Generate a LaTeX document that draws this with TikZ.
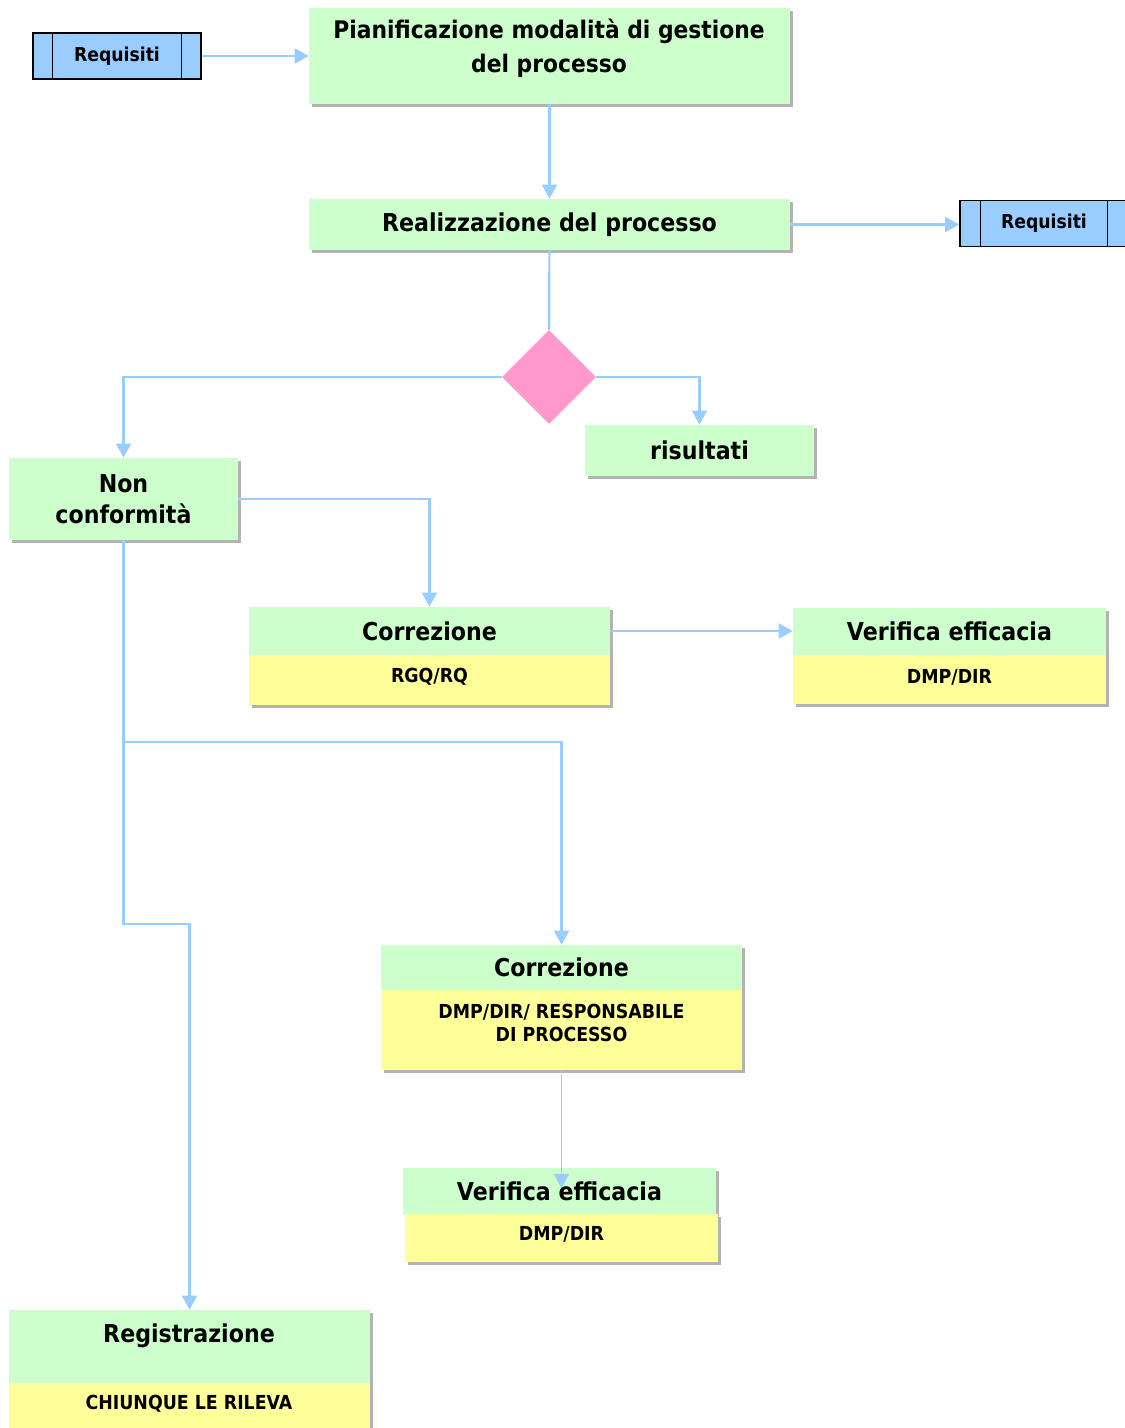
\documentclass[tikz,border=0pt]{standalone}
\usepackage{fontspec}
\setmainfont{DejaVu Sans}[FakeStretch=0.9]
\usetikzlibrary{arrows.meta,shapes.geometric,shadows}
\definecolor{boxgreen}{HTML}{CCFFCC}
\definecolor{boxyellow}{HTML}{FFFF99}
\definecolor{reqblue}{HTML}{99CCFF}
\definecolor{linkblue}{HTML}{99CCFF}
\definecolor{decpink}{HTML}{FF99CC}
\definecolor{shade}{HTML}{B3B3B3}

\begin{document}
\begin{tikzpicture}[x=0.02cm, y=-0.02cm,
        big/.style={font=\bfseries\fontsize{14}{17.6}\selectfont, align=center, inner sep=0pt},
        small/.style={font=\bfseries\fontsize{11}{13.6}\selectfont, align=center, inner sep=0pt},
        greenbox/.style={fill=boxgreen, inner sep=0pt, drop shadow={shadow xshift=1.7pt, shadow yshift=-1.7pt, fill=shade, opacity=1}},
        yellowbox/.style={fill=boxyellow, inner sep=0pt, drop shadow={shadow xshift=1.7pt, shadow yshift=-1.7pt, fill=shade, opacity=1}},
        reqbox/.style={draw=black, line width=0.9pt, fill=reqblue, minimum width=3.36cm, minimum height=0.92cm, inner sep=0pt, font=\bfseries\fontsize{10.9}{12}\selectfont},
        link/.style={draw=linkblue, line width=1.25pt},
        flow/.style={link, -{Triangle[width=8.5pt, length=8pt]}}]
        \useasboundingbox (0,0) rectangle (1125,1428);
        \clip (0,0) rectangle (1125,1428);

        \node[reqbox] (reqL) at (117,56) {Requisiti};
        \draw ([xshift=0.4cm]reqL.north west) -- ([xshift=0.4cm]reqL.south west);
        \draw ([xshift=-0.4cm]reqL.north east) -- ([xshift=-0.4cm]reqL.south east);
        \node[greenbox, minimum width=9.62cm, minimum height=1.92cm] (plan) at (549.5,56) {};
        \node[big, font=\bfseries\fontsize{13.8}{19.3}\selectfont] (planTxt) at (549,48) {Pianificazione modalità di gestione\\del processo};

        \node[greenbox, big, minimum width=9.62cm, minimum height=1.02cm] (real) at (549.5,224.5) {Realizzazione del processo};
        \node[reqbox] (reqR) at (1044,223.5) {Requisiti};
        \draw ([xshift=0.42cm]reqR.north west) -- ([xshift=0.42cm]reqR.south west);
        \draw ([xshift=-0.42cm]reqR.north east) -- ([xshift=-0.42cm]reqR.south east);

        \node[diamond, aspect=1, fill=decpink, minimum size=1.88cm, inner sep=0pt] (dec) at (549,377) {};
        \node[greenbox, big, minimum width=4.58cm, minimum height=1.02cm] (ris) at (699.5,450.5) {risultati};
        \node[greenbox, big, minimum width=4.58cm, minimum height=1.64cm] (nonc) at (123.5,499) {Non\\conformità};

        \node[greenbox, big, minimum width=7.22cm, minimum height=0.96cm] (corr1g) at (429.5,631) {Correzione};
        \node[yellowbox, small, minimum width=7.22cm, minimum height=1cm] (corr1y) at (429.5,680) {};
        \node[small] (corr1t) at (429.5,677) {RGQ/RQ};

        \node[greenbox, big, minimum width=6.26cm, minimum height=0.94cm] (ver1g) at (949.5,631.5) {Verifica efficacia};
        \node[yellowbox, minimum width=6.26cm, minimum height=0.98cm] (ver1y) at (949.5,679.5) {};
        \node[small] (ver1t) at (949.5,677) {DMP/DIR};

        \node[greenbox, big, minimum width=7.22cm, minimum height=0.9cm] (corr2g) at (561.5,967.5) {Correzione};
        \node[yellowbox, minimum width=7.22cm, minimum height=1.6cm] (corr2y) at (561.5,1030) {};
        \node[small] (corr2t) at (561.5,1023) {DMP/DIR/ RESPONSABILE\\DI PROCESSO};

        \node[greenbox, minimum width=6.26cm, minimum height=0.94cm] (ver2g) at (559.5,1191.5) {};
        \node[yellowbox, minimum width=6.26cm, minimum height=0.96cm] (ver2y) at (561.5,1238) {};
        \node[small] (ver2t) at (561.5,1234) {DMP/DIR};

        \node[greenbox, minimum width=7.22cm, minimum height=1.46cm] (regg) at (189.5,1346.5) {};
        \node[yellowbox, minimum width=7.22cm, minimum height=1.2cm] (regy) at (189.5,1413) {};
        \node[big] (regt) at (189,1336) {Registrazione};
        \node[small] (regw) at (189,1404) {CHIUNQUE LE RILEVA};

        \coordinate (split) at (123.5,742);
        \coordinate (bend) at (123.5,924);
        \coordinate (tip) at (561.5,1188);
        \draw[flow] (reqL) -- (plan);
        \draw[flow] (plan) -- (real);
        \draw[flow] (real.east) -- (real.east -| reqR.west);
        \draw[link] (real) -- (dec);
        \draw[flow] (dec.west) -| (nonc.north);
        \draw[flow] (dec.east) -| (ris.north);
        \draw[flow] (nonc.east) -| (corr1g.north);
        \draw[flow] (corr1g.east) -- (corr1g.east -| ver1g.west);
        \draw[flow] (nonc.south) -- (split) -| (corr2g.north);
        \draw[flow] (split) -- (bend) -| (regg.north);
        \draw[flow, line width=0.5pt] (corr2y.south) -- (tip);

        \node[big] (ver2v) at (559.5,1191) {Verifica efficacia};
    \end{tikzpicture}
\end{document}
